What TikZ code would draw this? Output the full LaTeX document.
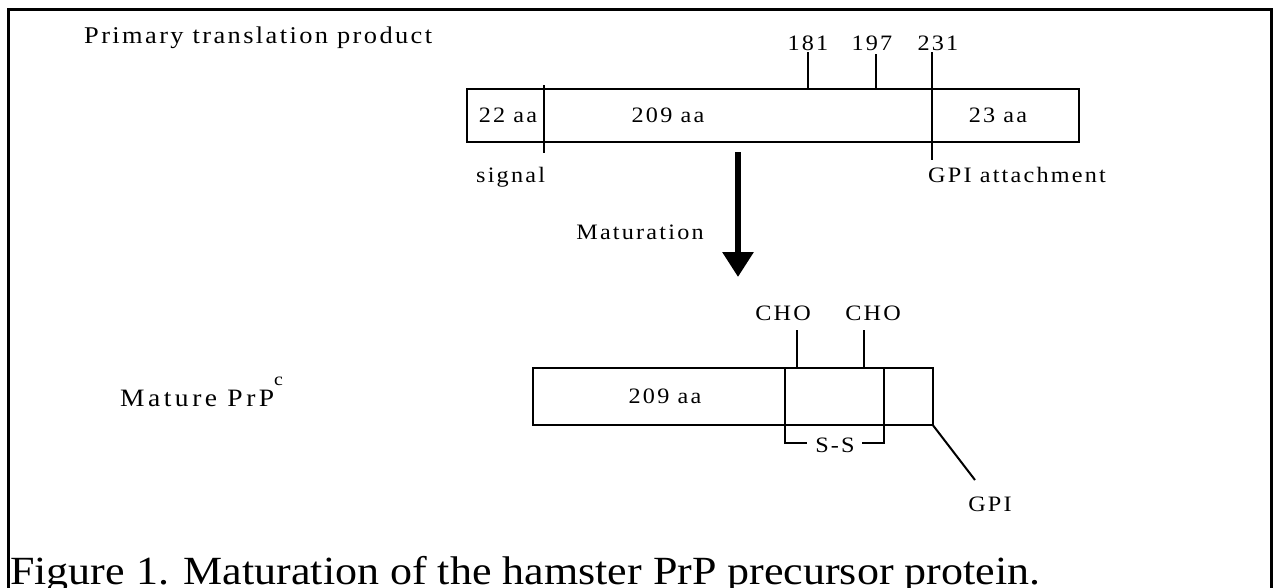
\documentclass[tikz,border=0pt]{standalone}
\usepackage{fontspec}
\setmainfont{Liberation Serif}[LetterSpace=10, FakeStretch=1.1]
\newfontfamily\capfont{Liberation Serif}[FakeStretch=1.1]
\newfontfamily\ttlfont{Liberation Serif}[LetterSpace=14, FakeStretch=1.1]
\usetikzlibrary{arrows.meta}
\begin{document}
\begin{tikzpicture}[x=1pt,y=-1pt,
  lbl/.style={inner sep=0pt, font=\fontsize{22}{26}\selectfont},
  ttl/.style={inner sep=0pt, font=\fontsize{24}{28}\selectfont},
  seg/.style={draw, line width=2pt, inner sep=0pt},
  ln/.style={line width=2pt},
  frame/.style={line width=3pt}]
\useasboundingbox (0,0) rectangle (1278,587);
% frame
\coordinate (fbl) at (8,660);
\coordinate (ftl) at (8,9);
\coordinate (ftr) at (1271,9);
\coordinate (fbr) at (1271,660);
\draw[frame] (fbl) -- (ftl) -- (ftr) -- (fbr);

% title
\node[ttl, anchor=base west] (prim) at (84,43) {Primary translation product};

% top bar
\node[seg, minimum width=612pt, minimum height=53pt, anchor=north west] (topbar) at (466,88) {};
\coordinate (d1t) at (544,85);  \coordinate (d1b) at (544,153);
\coordinate (d2t) at (932,52);  \coordinate (d2b) at (932,160);
\coordinate (t181t) at (808,52); \coordinate (t181b) at (808,88);
\coordinate (t197t) at (876,54); \coordinate (t197b) at (876,88);
\draw[ln] (d1t) -- (d1b);
\draw[ln] (d2t) -- (d2b);
\draw[ln] (t181t) -- (t181b);
\draw[ln] (t197t) -- (t197b);
\node[lbl, anchor=base] (n181) at (808,50) {181};
\node[lbl, anchor=base] (n197) at (872,50) {197};
\node[lbl, anchor=base] (n231) at (938,50) {231};
\node[lbl] (a22) at (508,115) {22 aa};
\node[lbl] (a209) at (668,115) {209 aa};
\node[lbl] (a23) at (998,115) {23 aa};
\node[lbl, anchor=base west] (sig) at (476,182) {signal};
\node[lbl, anchor=base west] (gpia) at (928,182) {GPI attachment};

% maturation arrow
\coordinate (arrs) at (738,152);
\coordinate (arre) at (738,277);
\draw[line width=6pt, -{Triangle[length=25pt,width=30pt]}] (arrs) -- (arre);
\node[lbl] (mat) at (640,232) {Maturation};

% mature
\node[inner sep=0pt, anchor=base west, font=\ttlfont\fontsize{25}{29}\selectfont] (mature) at (120,406) {Mature PrP\raisebox{21pt}{\fontsize{18}{20}\selectfont c}};
\node[seg, minimum width=400pt, minimum height=57pt, anchor=north west] (botbar) at (532,367) {};
\coordinate (e1t) at (785,367); \coordinate (e1b) at (785,443);
\coordinate (e2t) at (884,367); \coordinate (e2b) at (884,443);
\coordinate (e1r) at (807,443); \coordinate (e2l) at (862,443);
\draw[ln] (e1t) -- (e1b) -- (e1r);
\draw[ln] (e2t) -- (e2b) -- (e2l);
\node[lbl] (ss) at (835,445) {S-S};
\node[lbl] (b209) at (665,396) {209 aa};
\node[lbl] (cho1) at (783,313) {CHO};
\node[lbl] (cho2) at (873,313) {CHO};
\coordinate (c1t) at (797,330); \coordinate (c1b) at (797,367);
\coordinate (c2t) at (864,330); \coordinate (c2b) at (864,367);
\draw[ln] (c1t) -- (c1b);
\draw[ln] (c2t) -- (c2b);
\coordinate (g0) at (932,424);
\coordinate (g1) at (975,480);
\draw[ln] (g0) -- (g1);
\node[lbl] (gpi) at (990,504) {GPI};

% caption
\node[inner sep=0pt, anchor=base west, font=\capfont\fontsize{40}{44}\selectfont] (cap) at (10,584) {Figure 1. Maturation of the hamster PrP precursor protein.};
\end{tikzpicture}
\end{document}
